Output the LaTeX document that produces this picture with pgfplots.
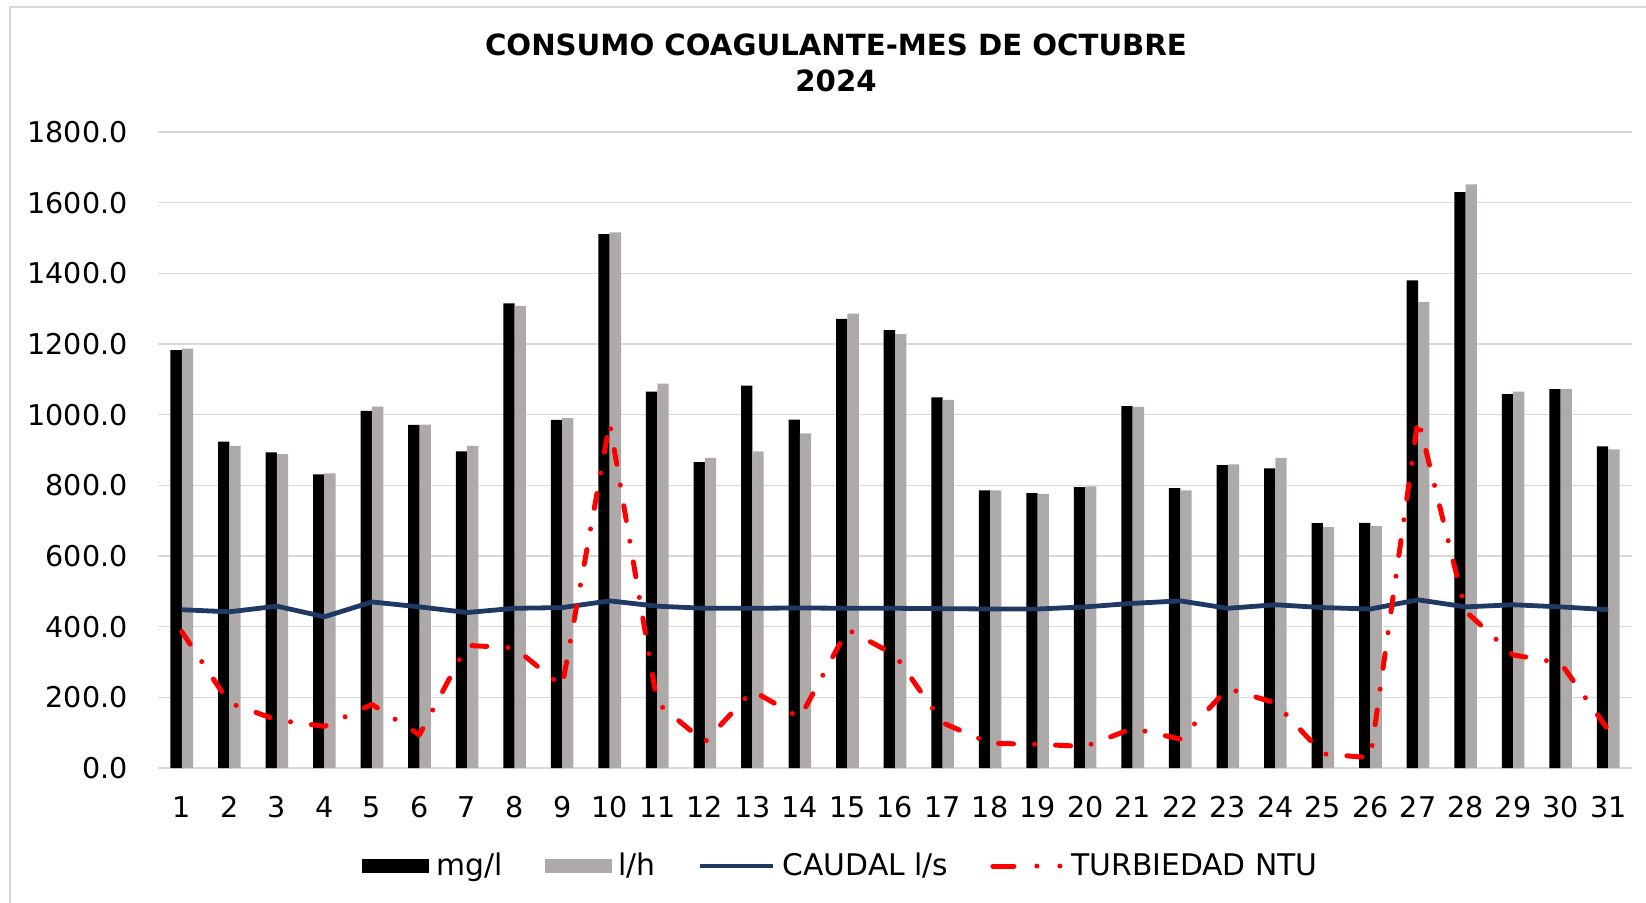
\documentclass[border=0pt]{standalone}
\usepackage{pgfplots}
\pgfplotsset{compat=1.18}
\usepackage{fontspec}
\setmainfont{DejaVu Sans}
\definecolor{gbar}{HTML}{AEAAAA}
\definecolor{navy}{HTML}{1F3864}
\definecolor{gridc}{HTML}{D9D9D9}
\begin{document}
\begin{tikzpicture}
\useasboundingbox (0,0) rectangle (823pt,451pt);
\draw[gridc, line width=0.6pt] (5pt,-10pt) -- (5pt,447.5pt) -- (830pt,447.5pt);
\node[font=\bfseries\fontsize{14.6}{16}\selectfont] at (418pt,428.5pt) {CONSUMO COAGULANTE-MES DE OCTUBRE};
\node[font=\bfseries\fontsize{14.6}{16}\selectfont] at (418pt,410.5pt) {2024};
\begin{axis}[
  at={(79pt,67pt)}, anchor=south west,
  width=737pt, height=318pt, scale only axis,
  xmin=0.5, xmax=31.5, ymin=0, ymax=1800,
  xtick={1,...,31}, ytick={0,200,...,1800},
  ymajorgrids, grid style={gridc, line width=0.65pt},
  axis line style={draw=none},
  tick style={draw=none},
  /pgf/number format/assume math mode=true,
  tick label style={font=\fontsize{14.3}{16}\selectfont},
  yticklabel style={inner sep=0pt, xshift=-15pt,
    /pgf/number format/fixed, /pgf/number format/fixed zerofill,
    /pgf/number format/precision=1, /pgf/number format/1000 sep={}},
  xticklabel style={inner sep=0pt, anchor=center, yshift=-19.5pt},
  legend columns=4,
  legend style={at={(0.4627,-0.1541)}, anchor=center, draw=none, fill=none,
    font=\fontsize{14.9}{16}\selectfont, inner sep=0pt,
    nodes={inner sep=0pt},
    /tikz/every even column/.append style={column sep=21pt}},
]
\addplot[ybar, bar width=5.65pt, bar shift=-2.825pt, fill=black, draw=none,
  legend image code/.code={\fill[black] (0pt,-3.5pt) rectangle (33.5pt,3.5pt); \path (37pt,0pt);}]
 coordinates {(1,1183) (2,924) (3,893) (4,831) (5,1011) (6,971) (7,896) (8,1315) (9,985) (10,1511)
 (11,1065) (12,866) (13,1082) (14,986) (15,1271) (16,1239) (17,1049) (18,786) (19,778) (20,795)
 (21,1024) (22,792) (23,857) (24,848) (25,693) (26,694) (27,1380) (28,1630) (29,1058) (30,1072) (31,910)};
\addlegendentry{mg/l}
\addplot[ybar, bar width=5.65pt, bar shift=2.825pt, fill=gbar, draw=none,
  legend image code/.code={\fill[gbar] (0pt,-3.5pt) rectangle (33.5pt,3.5pt); \path (37pt,0pt);}]
 coordinates {(1,1187) (2,912) (3,888) (4,834) (5,1023) (6,972) (7,912) (8,1308) (9,990) (10,1516)
 (11,1088) (12,878) (13,896) (14,947) (15,1286) (16,1228) (17,1042) (18,786) (19,776) (20,797)
 (21,1022) (22,786) (23,859) (24,878) (25,682) (26,685) (27,1319) (28,1652) (29,1065) (30,1072) (31,902)};
\addlegendentry{l/h}
\addplot[navy, line width=2.4pt, line join=round, mark=none,
  legend image code/.code={\draw[navy, line width=2.4pt] (0pt,0pt) -- (36.5pt,0pt); \path (40pt,0pt);}]
 coordinates {(1,448) (2,442) (3,458) (4,428) (5,470) (6,456) (7,440) (8,452) (9,454) (10,473)
 (11,458) (12,452) (13,452) (14,453) (15,452) (16,452) (17,451) (18,450) (19,450) (20,456)
 (21,466) (22,473) (23,452) (24,462) (25,454) (26,450) (27,476) (28,456) (29,462) (30,456) (31,448)};
\addlegendentry{CAUDAL l/s}
\addplot[red, line width=2.5pt, line cap=round, line join=round, mark=none,
  dash pattern=on 7.5pt off 10.5pt on 0pt off 10.5pt,
  legend image code/.code={\draw[red, line width=2.5pt, line cap=round, dash pattern=on 10.5pt off 11.5pt on 0pt off 11.5pt on 0pt off 50pt] (1pt,0pt) -- (36pt,0pt); \path (39pt,0pt);}]
 coordinates {(1,386) (2,184) (3,136) (4,118) (5,180) (6,94) (7,347) (8,340) (9,231) (10,977)
 (11,184) (12,73) (13,219) (14,142) (15,392) (16,320) (17,128) (18,70) (19,67) (20,61)
 (21,112) (22,82) (23,225) (24,184) (25,40) (26,29) (27,989) (28,444) (29,320) (30,297) (31,108)};
\addlegendentry{TURBIEDAD NTU}
\end{axis}
\end{tikzpicture}
\end{document}
